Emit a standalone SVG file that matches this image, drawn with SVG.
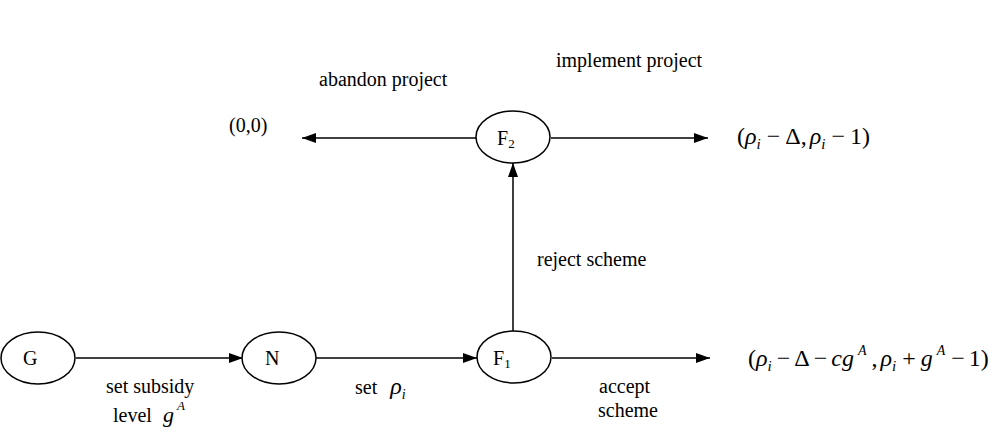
<svg xmlns="http://www.w3.org/2000/svg" width="992" height="440" viewBox="0 0 992 440">
<defs>
<style>
.n{fill:#fff;stroke:#000;stroke-width:1.5}
.e{stroke:#000;stroke-width:1.5;fill:none}
.t{font-size:20px}
.m{font-size:24px}
.i{font-style:italic}
</style>
<marker id="ah" markerWidth="14" markerHeight="10" refX="14" refY="5" orient="auto" markerUnits="userSpaceOnUse">
<path d="M0,0 L14,5 L0,10 Z" fill="#000"/>
</marker>
</defs>
<rect width="992" height="440" fill="#fff"/>
<g id="connectors">
<line class="e" x1="76" y1="358" x2="243" y2="358" marker-end="url(#ah)"/>
<line class="e" x1="316" y1="358" x2="477" y2="358" marker-end="url(#ah)"/>
<line class="e" x1="552" y1="358" x2="710" y2="358" marker-end="url(#ah)"/>
<line class="e" x1="513" y1="331" x2="513" y2="163" marker-end="url(#ah)"/>
<line class="e" x1="476" y1="138" x2="302" y2="138" marker-end="url(#ah)"/>
<line class="e" x1="551" y1="138" x2="708" y2="138" marker-end="url(#ah)"/>
</g>
<g font-family="'Liberation Serif', 'Times New Roman', serif" fill="#000">
<g id="node-G"><ellipse class="n" cx="38" cy="358" rx="37" ry="26"/><text class="t" x="23" y="365">G</text></g>
<g id="node-N"><ellipse class="n" cx="279" cy="358" rx="37" ry="26"/><text class="t" x="265" y="365">N</text></g>
<g id="node-F1"><ellipse class="n" cx="514" cy="357" rx="37" ry="26"/><text class="t" x="493" y="365">F<tspan font-size="13" dy="3">1</tspan></text></g>
<g id="node-F2"><ellipse class="n" cx="513" cy="137" rx="37" ry="26"/><text class="t" x="497" y="145">F<tspan font-size="13" dy="3">2</tspan></text></g>
<g id="labels">
<text class="t" x="229" y="132">(0,0)</text>
<text class="t" x="319" y="86">abandon project</text>
<text class="t" x="556" y="67">implement project</text>
<text class="t" x="537" y="266">reject scheme</text>
<text class="t" x="106" y="393">set subsidy</text>
<text class="t" x="113" y="422">level <tspan class="i" font-size="22" dx="6">g</tspan><tspan class="i" font-size="13" dy="-12" dx="3">A</tspan></text>
<text class="t" x="355" y="394">set <tspan class="i" font-size="24" dx="8">ρ</tspan><tspan class="i" font-size="14" dy="5">i</tspan></text>
<text class="t" x="599" y="393">accept</text>
<text class="t" x="598" y="417">scheme</text>
<text class="m" x="737" y="144">(<tspan class="i">ρ</tspan><tspan class="i" font-size="15" dy="5">i</tspan><tspan dy="-5" dx="6">−</tspan><tspan dx="5">Δ,</tspan><tspan class="i" dx="3">ρ</tspan><tspan class="i" font-size="15" dy="5">i</tspan><tspan dy="-5" dx="6">−</tspan><tspan dx="5">1)</tspan></text>
<text class="m" x="748" y="366">(<tspan class="i">ρ</tspan><tspan class="i" font-size="15" dy="5">i</tspan><tspan dy="-5" dx="5">−</tspan><tspan dx="4">Δ</tspan><tspan dx="4">−</tspan><tspan class="i" dx="4">cg</tspan><tspan class="i" font-size="14" dy="-11" dx="4">A</tspan><tspan dy="11" dx="5">,</tspan><tspan class="i" dx="3">ρ</tspan><tspan class="i" font-size="15" dy="5">i</tspan><tspan dy="-5" dx="6">+</tspan><tspan class="i" dx="5">g</tspan><tspan class="i" font-size="14" dy="-11" dx="4">A</tspan><tspan dy="11" dx="6">−</tspan><tspan dx="4">1)</tspan></text>
</g>
</g>
</svg>
